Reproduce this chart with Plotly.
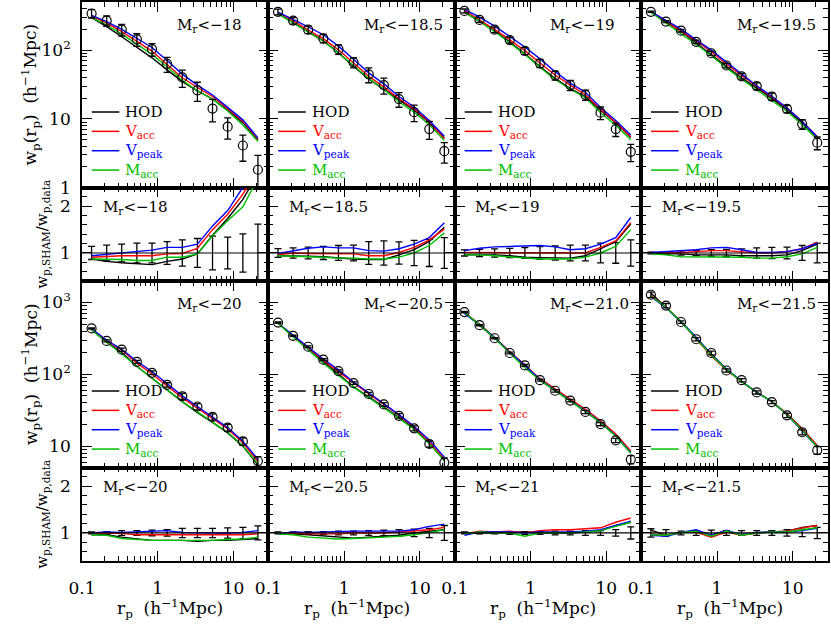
import plotly.graph_objects as go

# projected separations (h^-1 Mpc)
rp = [0.134, 0.212, 0.335, 0.531, 0.841, 1.33, 2.11, 3.34, 5.29, 8.38, 13.3, 21.0]

mag_wp = ["-18", "-18.5", "-19", "-19.5", "-20", "-20.5", "-21.0", "-21.5"]
mag_ratio = ["-18", "-18.5", "-19", "-19.5", "-20", "-20.5", "-21", "-21.5"]

# measured w_p(r_p) per luminosity sample
wp_data = [
    [341, 268, 198, 143, 103, 63, 40, 26, 14.1, 7.7, 4.1, 1.82],
    [360, 268, 198, 148, 103, 66.5, 44.4, 31, 19.4, 12.5, 7.1, 3.39],
    [372, 275, 198, 140, 97.4, 64.3, 43, 31, 22.4, 12.3, 7.1, 3.32],
    [360, 260, 192, 132, 90, 59.7, 41.6, 30, 21.1, 14, 8.4, 4.5],
    [435, 292, 220, 149, 105, 71.3, 49.5, 35.6, 25.5, 18.1, 11.6, 6.2],
    [525, 344, 242, 160, 111, 75.2, 53.2, 38, 26.4, 17.7, 10.7, 5.9],
    [735, 483, 318, 198, 133, 82.8, 59, 43, 29.9, 20.2, 12, 6.5],
    [1282, 906, 535, 308, 198, 113, 82.8, 56, 41, 26.8, 15.6, 8.75],
]

# fractional errors of the measurements
wp_frac_err = [
    [0.14, 0.17, 0.19, 0.21, 0.21, 0.245, 0.28, 0.31, 0.36, 0.34, 0.41, 0.62],
    [0.095, 0.11, 0.125, 0.14, 0.16, 0.17, 0.245, 0.26, 0.24, 0.27, 0.29, 0.33],
    [0.065, 0.08, 0.09, 0.10, 0.115, 0.135, 0.15, 0.17, 0.17, 0.21, 0.22, 0.28],
    [0.02, 0.03, 0.045, 0.055, 0.07, 0.075, 0.09, 0.11, 0.12, 0.125, 0.16, 0.21],
    [0.02, 0.03, 0.05, 0.05, 0.06, 0.07, 0.10, 0.10, 0.10, 0.11, 0.12, 0.15],
    [0.02, 0.02, 0.03, 0.03, 0.04, 0.04, 0.05, 0.06, 0.07, 0.08, 0.10, 0.16],
    [0.02, 0.02, 0.02, 0.03, 0.03, 0.03, 0.04, 0.04, 0.05, 0.05, 0.07, 0.13],
    [0.09, 0.07, 0.04, 0.05, 0.06, 0.05, 0.05, 0.05, 0.05, 0.07, 0.08, 0.12],
]

# model / data ratios
ratio_hod = [
    [0.87, 0.82, 0.79, 0.77, 0.75, 0.82, 0.87, 0.98, 1.38, 1.74, 2.15, 2.7],
    [0.94, 0.94, 0.93, 0.92, 0.89, 0.87, 0.86, 0.86, 0.96, 1.07, 1.25, 1.55],
    [0.96, 0.96, 0.96, 0.94, 0.91, 0.90, 0.90, 0.89, 0.94, 1.09, 1.24, 1.62],
    [1.0, 0.98, 0.98, 0.96, 0.96, 0.96, 0.94, 0.94, 0.94, 0.96, 1.05, 1.19],
    [0.96, 0.96, 0.91, 0.87, 0.84, 0.84, 0.84, 0.82, 0.84, 0.84, 0.86, 0.88],
    [0.98, 0.98, 0.96, 0.94, 0.91, 0.89, 0.91, 0.93, 0.95, 1.0, 1.04, 1.07],
    [1.0, 1.0, 1.0, 1.02, 1.02, 1.0, 1.0, 1.0, 1.02, 1.05, 1.16, 1.23],
    [1.06, 0.95, 1.01, 1.04, 0.96, 1.04, 0.96, 1.0, 1.02, 1.04, 1.12, 1.16],
]
ratio_vacc = [
    [0.91, 0.93, 0.94, 0.94, 0.94, 0.98, 0.99, 1.10, 1.50, 1.83, 2.26, 2.8],
    [0.96, 1.0, 0.99, 0.99, 0.98, 0.98, 0.94, 0.94, 1.01, 1.12, 1.28, 1.51],
    [1.01, 1.01, 1.01, 1.01, 1.01, 1.01, 1.01, 1.0, 1.0, 1.12, 1.26, 1.65],
    [1.01, 1.01, 1.01, 1.03, 1.05, 1.05, 1.03, 1.0, 1.0, 1.03, 1.09, 1.23],
    [0.98, 1.0, 0.99, 0.96, 0.96, 0.96, 0.95, 0.95, 0.95, 0.96, 0.96, 0.98],
    [0.98, 1.0, 0.98, 0.98, 0.98, 1.0, 1.0, 1.0, 1.02, 1.04, 1.07, 1.12],
    [0.98, 1.04, 1.02, 1.04, 1.0, 1.05, 1.07, 1.07, 1.09, 1.11, 1.23, 1.32],
    [0.98, 0.95, 1.01, 1.02, 0.91, 1.02, 0.95, 1.0, 1.02, 1.04, 1.11, 1.16],
]
ratio_vpeak = [
    [0.94, 0.97, 1.01, 1.04, 1.06, 1.12, 1.12, 1.19, 1.58, 1.91, 2.36, 2.9],
    [0.99, 1.05, 1.10, 1.13, 1.11, 1.11, 1.05, 1.04, 1.09, 1.19, 1.33, 1.65],
    [1.05, 1.10, 1.13, 1.14, 1.14, 1.16, 1.13, 1.07, 1.09, 1.19, 1.33, 1.76],
    [1.01, 1.03, 1.05, 1.07, 1.11, 1.12, 1.07, 1.01, 1.01, 1.03, 1.09, 1.21],
    [1.0, 1.02, 1.01, 1.02, 1.04, 1.05, 1.01, 1.0, 1.0, 1.0, 1.01, 1.05],
    [0.98, 1.02, 1.01, 1.02, 1.04, 1.04, 1.04, 1.04, 1.04, 1.07, 1.14, 1.19],
    [0.95, 1.02, 1.02, 1.02, 1.0, 1.02, 1.02, 1.02, 1.04, 1.07, 1.16, 1.25],
    [0.95, 0.93, 1.01, 1.07, 0.95, 1.06, 0.96, 1.01, 1.02, 1.02, 1.05, 1.10],
]
ratio_macc = [
    [0.87, 0.87, 0.86, 0.84, 0.84, 0.91, 0.91, 0.98, 1.37, 1.69, 1.99, 2.6],
    [0.94, 0.93, 0.93, 0.91, 0.89, 0.89, 0.87, 0.87, 0.91, 1.0, 1.16, 1.43],
    [0.96, 0.96, 0.94, 0.92, 0.89, 0.87, 0.87, 0.87, 0.91, 1.0, 1.14, 1.50],
    [0.98, 0.96, 0.92, 0.92, 0.92, 0.92, 0.91, 0.89, 0.89, 0.92, 0.98, 1.12],
    [0.96, 0.95, 0.88, 0.86, 0.84, 0.84, 0.84, 0.84, 0.84, 0.86, 0.87, 0.91],
    [0.98, 0.96, 0.91, 0.89, 0.87, 0.88, 0.89, 0.91, 0.93, 0.96, 1.01, 1.07],
    [0.98, 1.02, 1.0, 1.0, 0.93, 1.0, 1.01, 1.0, 1.02, 1.05, 1.14, 1.23],
    [0.96, 0.95, 1.01, 1.04, 0.93, 1.04, 0.95, 1.0, 1.02, 1.02, 1.07, 1.11],
]

models = [
    ("HOD", "HOD", ratio_hod, "#000000"),
    ("Vacc", "V<sub>acc</sub>", ratio_vacc, "#ff0000"),
    ("Vpeak", "V<sub>peak</sub>", ratio_vpeak, "#0000ff"),
    ("Macc", "M<sub>acc</sub>", ratio_macc, "#00c000"),
]

FONT = "DejaVu Serif"
W, H = 831, 624
COL_X0, COL_W = 70, 189.4
ROW_EDGES = [1, 190, 285, 475, 570]


def px(x):
    return x / W


def py(y):
    return 1 - y / H


fig = go.Figure()
axes = {}
shapes = []
annotations = []

frame = dict(
    showline=True, linecolor="black", linewidth=1.5, mirror="allticks",
    ticks="inside", ticklen=10, tickwidth=1.2, tickcolor="black",
    showgrid=False, zeroline=False,
    tickfont=dict(family=FONT, size=17, color="black"),
)
x_minor = [0.2, 0.3, 0.4, 0.5, 0.6, 0.7, 0.8, 0.9, 2, 3, 4, 5, 6, 7, 8, 9, 20]

for r in range(4):
    for c in range(4):
        n = r * 4 + c + 1
        sfx = "" if n == 1 else str(n)
        left = COL_X0 + c * COL_W
        right = left + COL_W
        top, bot = ROW_EDGES[r], ROW_EDGES[r + 1]

        axes["xaxis" + sfx] = dict(
            frame, type="log", range=[-1.0005, 1.46],
            domain=[px(left), px(right)], anchor="y" + sfx,
            tickmode="array", tickvals=[0.1, 1, 10], ticktext=["0.1", "1", "10"],
            minor=dict(tickmode="array", tickvals=x_minor, ticks="inside",
                       ticklen=5, tickwidth=1, tickcolor="black"),
            showticklabels=(r == 3), ticklabelstandoff=11,
        )
        ya = dict(frame, domain=[py(bot), py(top)], anchor="x" + sfx,
                  showticklabels=(c == 0), ticklabelstandoff=6)
        if r == 0:
            ya.update(type="log", range=[-0.0005, 2.7], tickmode="array",
                      tickvals=[1, 10, 100], ticktext=["1", "10", "10<sup>2</sup>"],
                      minor=dict(tickmode="array",
                                 tickvals=[2, 3, 4, 5, 6, 7, 8, 9, 20, 30, 40, 50,
                                           60, 70, 80, 90, 200, 300, 400],
                                 ticks="inside", ticklen=5, tickwidth=1, tickcolor="black"))
        elif r == 2:
            ya.update(type="log", range=[0.7, 3.3], tickmode="array",
                      tickvals=[10, 100, 1000],
                      ticktext=["10", "10<sup>2</sup>", "10<sup>3</sup>"],
                      minor=dict(tickmode="array",
                                 tickvals=[6, 7, 8, 9, 20, 30, 40, 50, 60, 70, 80, 90,
                                           200, 300, 400, 500, 600, 700, 800, 900, 2000],
                                 ticks="inside", ticklen=5, tickwidth=1, tickcolor="black"))
        else:
            ya.update(type="linear", range=[0.4, 2.4], tickmode="array",
                      tickvals=[1, 2], ticktext=["1", "2"],
                      minor=dict(tickmode="array",
                                 tickvals=[0.4, 0.6, 0.8, 1.2, 1.4, 1.6, 1.8, 2.2, 2.4],
                                 ticks="inside", ticklen=5, tickwidth=1, tickcolor="black"))
        axes["yaxis" + sfx] = ya

        s = (r // 2) * 4 + c  # sample index
        xref, yref = "x" + sfx, "y" + sfx

        if r in (0, 2):
            for key, label, ratios, color in models:
                fig.add_trace(go.Scatter(
                    x=rp, y=[w * q for w, q in zip(wp_data[s], ratios[s])],
                    mode="lines", line=dict(color=color, width=1.4),
                    xaxis=xref, yaxis=yref, showlegend=False,
                ))
            fig.add_trace(go.Scatter(
                x=rp, y=wp_data[s], mode="markers",
                marker=dict(symbol="circle-open", size=9, color="black",
                            line=dict(width=1.2, color="black")),
                error_y=dict(type="data",
                             array=[w * e for w, e in zip(wp_data[s], wp_frac_err[s])],
                             color="black", thickness=1.3, width=3.5),
                xaxis=xref, yaxis=yref, showlegend=False,
            ))
            # legend block
            for i, (key, label, ratios, color) in enumerate(models):
                yl = top + 112 + i * 19.7
                shapes.append(dict(type="line", xref="paper", yref="paper",
                                   x0=px(left + 10), x1=px(left + 38),
                                   y0=py(yl), y1=py(yl),
                                   line=dict(color=color, width=1.5)))
                annotations.append(dict(
                    x=px(left + 42), y=py(yl), xref="paper", yref="paper",
                    xanchor="left", yanchor="middle", showarrow=False,
                    text=label, font=dict(family=FONT, size=15, color=color),
                ))
            annotations.append(dict(
                x=px(left + 95), y=py(top + 24), xref="paper", yref="paper",
                xanchor="left", yanchor="middle", showarrow=False,
                text="M<sub>r</sub><\u2212" + mag_wp[s][1:],
                font=dict(family=FONT, size=15, color="black"),
            ))
        else:
            shapes.append(dict(type="line", xref=xref + " domain", yref=yref,
                               x0=0, x1=1, y0=1, y1=1,
                               line=dict(color="black", width=1.2)))
            fig.add_trace(go.Scatter(
                x=rp, y=[1.0] * len(rp), mode="markers",
                marker=dict(size=1, color="black"),
                error_y=dict(type="data", array=wp_frac_err[s],
                             color="black", thickness=1.3, width=3.5),
                xaxis=xref, yaxis=yref, showlegend=False,
            ))
            for key, label, ratios, color in models:
                fig.add_trace(go.Scatter(
                    x=rp, y=ratios[s], mode="lines",
                    line=dict(color=color, width=1.4),
                    xaxis=xref, yaxis=yref, showlegend=False,
                ))
            annotations.append(dict(
                x=px(left + 19), y=py(top + 20), xref="paper", yref="paper",
                xanchor="left", yanchor="middle", showarrow=False,
                text="M<sub>r</sub><\u2212" + mag_ratio[s][1:],
                font=dict(family=FONT, size=15, color="black"),
            ))

# axis titles
for r in (0, 2):
    annotations.append(dict(
        x=px(18), y=py((ROW_EDGES[r] + ROW_EDGES[r + 1]) / 2), xref="paper", yref="paper",
        textangle=-90, showarrow=False, xanchor="center", yanchor="middle",
        text="w<sub>p</sub>(r<sub>p</sub>)  (h<sup>\u22121</sup>Mpc)",
        font=dict(family=FONT, size=17, color="black"),
    ))
for r in (1, 3):
    annotations.append(dict(
        x=px(30), y=py((ROW_EDGES[r] + ROW_EDGES[r + 1]) / 2), xref="paper", yref="paper",
        textangle=-90, showarrow=False, xanchor="center", yanchor="middle",
        text="w<sub>p,SHAM</sub>/w<sub>p,data</sub>",
        font=dict(family=FONT, size=15, color="black"),
    ))
for c in range(4):
    annotations.append(dict(
        x=px(COL_X0 + (c + 0.5) * COL_W - 5), y=py(618), xref="paper", yref="paper",
        showarrow=False, xanchor="center", yanchor="middle",
        text="r<sub>p</sub>  (h<sup>\u22121</sup>Mpc)",
        font=dict(family=FONT, size=17, color="black"),
    ))

fig.update_layout(
    width=W, height=H, autosize=False,
    margin=dict(l=0, r=0, t=0, b=0),
    paper_bgcolor="white", plot_bgcolor="white",
    showlegend=False,
    shapes=shapes, annotations=annotations,
    **axes,
)

# drop the default page margin so the figure fills the 831x624 window
fig.write_html(
    "out.html",
    config={"displayModeBar": False},
    post_script="document.body.style.margin='0';document.body.style.overflow='hidden';",
)
